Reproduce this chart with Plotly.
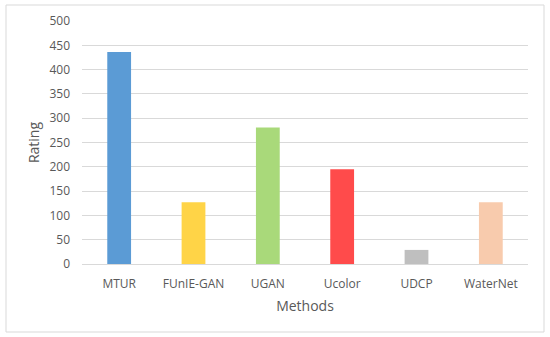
import plotly.graph_objects as go

methods = ["MTUR", "FUnIE-GAN", "UGAN", "Ucolor", "UDCP", "WaterNet"]
ratings = [436, 127, 281, 195, 29, 127]
colors = ["#5B9BD5", "#FFD447", "#A9D97A", "#FF4B4B", "#BFBFBF", "#F8CBAD"]
y_ticks = [0, 50, 100, 150, 200, 250, 300, 350, 400, 450, 500]

W, H = 550, 337
L, R, T, B = 82, 22, 21, 73
pw, ph = W - L - R, H - T - B

fig = go.Figure(go.Bar(x=methods, y=ratings, marker=dict(color=colors, line=dict(width=0)),
                       hoverinfo="x+y"))

fig.update_layout(
    width=W, height=H,
    margin=dict(l=L, r=R, t=T, b=B, autoexpand=False),
    paper_bgcolor="white", plot_bgcolor="white",
    bargap=0.68,
    showlegend=False,
    font=dict(family="Open Sans, Liberation Sans, sans-serif", color="#595959", size=12),
    xaxis=dict(showgrid=False, showline=True, linecolor="#D9D9D9", linewidth=1,
               ticks="", ticklabelstandoff=9, tickfont=dict(size=12, color="#595959"),
               title=dict(text="Methods", font=dict(size=14, color="#595959"), standoff=9)),
    yaxis=dict(range=[0, 500], tickvals=y_ticks, showgrid=True, gridcolor="#D9D9D9",
               gridwidth=1, zeroline=False, showline=False, ticks="",
               ticklabelstandoff=11,
               tickfont=dict(size=12, color="#595959"),
               title=dict(text="Rating", font=dict(size=14, color="#595959"), standoff=6)),
    shapes=[dict(type="rect", xref="paper", yref="paper",
                 x0=(6 - L) / pw, x1=(544 - L) / pw,
                 y0=(H - 332 - B) / ph, y1=(H - 5 - B) / ph,
                 line=dict(color="#D9D9D9", width=1), fillcolor="rgba(0,0,0,0)", layer="below")],
)

fig.write_html("out.html", config={"displayModeBar": False},
               post_script="document.body.style.margin='0';document.body.style.overflow='hidden';")
